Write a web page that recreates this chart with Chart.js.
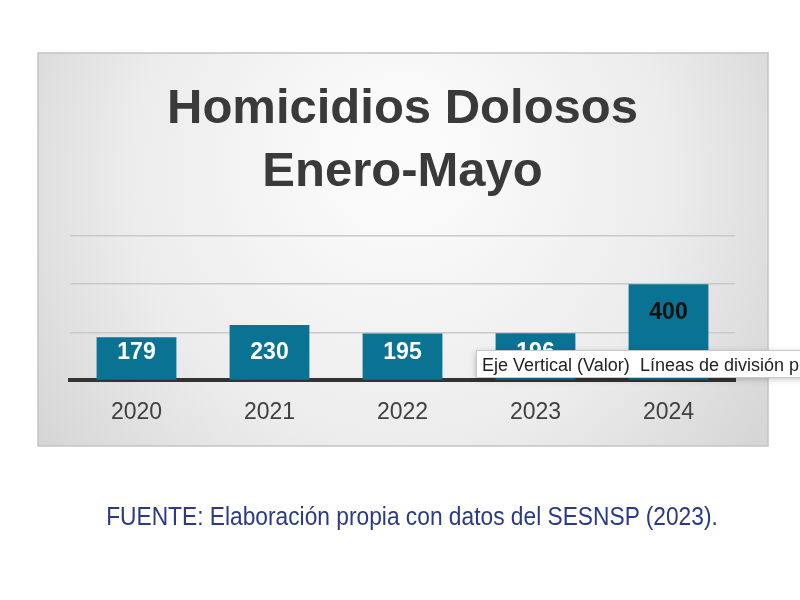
<!DOCTYPE html>
<html>
<head>
<meta charset="utf-8">
<script src="https://cdn.jsdelivr.net/npm/chart.js@4/dist/chart.umd.min.js"></script>
<style>
html, body { margin: 0; padding: 0; background: #fff; }
#wrap { position: relative; width: 800px; height: 600px; overflow: hidden; }
#grafica { position: absolute; left: 0; top: 0; }
#fuente {
    position: absolute; left: 0; top: 502px; width: 824px; margin: 0;
    text-align: center; color: #2b3a86;
    font-family: 'Liberation Sans', Arial, sans-serif;
    font-size: 25px;
    transform: scale(0.91, 1);
    transform-origin: 412px 0;
}
</style>
</head>
<body>
<div id="wrap">
    <canvas id="grafica" width="800" height="600" style="width:800px;height:600px"></canvas>
    <p id="fuente">FUENTE: Elaboración propia con datos del SESNSP (2023).</p>
</div>
<script>
var anios = ["2020", "2021", "2022", "2023", "2024"];
var homicidios = [179, 230, 195, 196, 400];
var marcasY = [0, 200, 400, 600];
var titulo = ["Homicidios Dolosos", "Enero-Mayo"];
var textoAviso = ["Eje Vertical (Valor)", "Líneas de división p"];

// fondo gris del recuadro de Excel
var fondoPanel = {
    id: 'fondoPanel',
    beforeDraw: function(chart){
        var ctx = chart.ctx;
        ctx.save();
        var g = ctx.createRadialGradient(400, 150, 40, 400, 200, 460);
        g.addColorStop(0, '#fbfbfb');
        g.addColorStop(0.55, '#ececec');
        g.addColorStop(1, '#d2d2d2');
        ctx.fillStyle = g;
        ctx.fillRect(38, 53, 730, 393);
        ctx.strokeStyle = '#c4c4c4';
        ctx.lineWidth = 1.5;
        ctx.strokeRect(38, 53, 730, 393);
        ctx.restore();
    }
};

// etiquetas de valor dentro de las barras
var etiquetas = {
    id: 'etiquetas',
    afterDatasetsDraw: function(chart){
        var ctx = chart.ctx;
        var meta = chart.getDatasetMeta(0);
        var colores = chart.options.plugins.etiquetas.colores;
        ctx.save();
        ctx.font = 'bold 23px "Liberation Sans", Arial, sans-serif';
        ctx.textAlign = 'center';
        ctx.textBaseline = 'middle';
        meta.data.forEach(function(bar, i){
            var y = Math.min(bar.base - 27, bar.y + 29);
            ctx.fillStyle = colores[i];
            ctx.fillText(homicidios[i], bar.x, y);
        });
        ctx.restore();
    }
};

// la etiqueta emergente que quedo en la captura
var aviso = {
    id: 'aviso',
    afterDraw: function(chart){
        var ctx = chart.ctx;
        ctx.save();
        ctx.shadowColor = 'rgba(0,0,0,0.25)';
        ctx.shadowBlur = 6;
        ctx.shadowOffsetY = 2;
        ctx.fillStyle = '#ffffff';
        ctx.fillRect(476, 350, 340, 27);
        ctx.shadowColor = 'transparent';
        ctx.strokeStyle = '#c8c8c8';
        ctx.lineWidth = 1;
        ctx.strokeRect(476.5, 350.5, 340, 27);
        ctx.fillStyle = '#222222';
        ctx.font = '18px "Liberation Sans", Arial, sans-serif';
        ctx.textBaseline = 'alphabetic';
        ctx.fillText(textoAviso[0], 482, 371);
        ctx.fillText(textoAviso[1], 640, 371);
        ctx.restore();
    }
};

var ctx = document.getElementById("grafica");
var options = {};
var data = {};
options.type = 'bar';
data.labels = anios;
data.datasets = [{
    label: "Homicidios dolosos",
    data: homicidios,
    backgroundColor: '#0a7393',
    borderWidth: 0,
    categoryPercentage: 1.0,
    barPercentage: 0.6
}];
options.data = data;
options.options = {
    responsive: false,
    animation: false,
    events: [],
    layout: { padding: { left: 70, right: 65, top: 53, bottom: 156 } },
    plugins: {
        legend: { display: false },
        tooltip: { enabled: false },
        title: {
            display: true,
            text: titulo,
            color: '#3a3a3a',
            font: { family: '"Liberation Sans", Arial, sans-serif', size: 49, weight: 'bold', lineHeight: 1.286 },
            padding: { top: 25, bottom: 32 }
        },
        etiquetas: { colores: ['#ffffff', '#ffffff', '#ffffff', '#ffffff', '#111111'] }
    },
    scales: {
        x: {
            grid: { display: false, drawTicks: false },
            border: { display: true, color: '#333333', width: 4 },
            ticks: {
                color: '#404040',
                padding: 18,
                font: { family: '"Liberation Sans", Arial, sans-serif', size: 23 }
            }
        },
        y: {
            min: marcasY[0],
            max: marcasY[marcasY.length - 1],
            afterBuildTicks: function(axis){
                axis.ticks = marcasY.map(function(v){ return { value: v }; });
            },
            grid: { color: '#c9c9c9', lineWidth: 1.5, drawTicks: false },
            border: { display: false },
            ticks: { display: false }
        }
    }
};
options.plugins = [fondoPanel, etiquetas, aviso];
new Chart(ctx, options);
</script>
</body>
</html>
